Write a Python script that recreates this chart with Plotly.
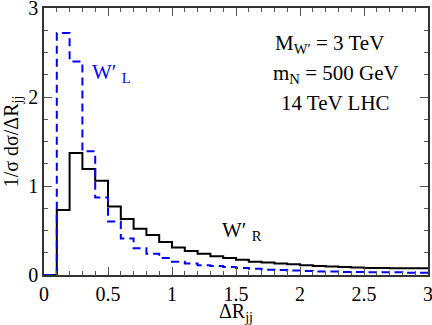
import plotly.graph_objects as go

# bin edges of the Delta R_jj histogram (0.1 wide)
edges = [round(0.1 * i, 1) for i in range(31)]

# normalised distributions, one value per bin
w_right = [0.00, 0.73, 1.37, 1.19, 1.06, 0.77, 0.63, 0.52, 0.45, 0.37,
           0.31, 0.27, 0.24, 0.21, 0.19, 0.17, 0.15, 0.14, 0.13, 0.12,
           0.11, 0.10, 0.095, 0.09, 0.085, 0.08, 0.08, 0.075, 0.075, 0.075]
w_left = [0.00, 2.72, 2.40, 1.39, 0.87, 0.60, 0.41, 0.30, 0.24, 0.19,
          0.15, 0.13, 0.11, 0.10, 0.09, 0.08, 0.07, 0.06, 0.055, 0.05,
          0.045, 0.04, 0.04, 0.035, 0.035, 0.03, 0.03, 0.03, 0.025, 0.025]

x_ticks = [0, 0.5, 1, 1.5, 2, 2.5, 3]
x_labels = ["0", "0.5", "1", "1.5", "2", "2.5", "3"]
y_ticks = [0, 1, 2, 3]

FONT = "Liberation Serif, Times New Roman, serif"

fig = go.Figure()
fig.add_trace(go.Scatter(x=edges, y=w_right + [w_right[-1]], mode="lines",
                         line=dict(color="black", width=2, shape="hv"),
                         showlegend=False))
fig.add_trace(go.Scatter(x=edges, y=w_left + [w_left[-1]], mode="lines",
                         line=dict(color="#0000ff", width=2, shape="hv", dash="8px,5px"),
                         showlegend=False))

axis_common = dict(showgrid=False, zeroline=False, showline=True, linecolor="#333",
                   linewidth=1.5, mirror="allticks", ticks="inside", ticklen=8,
                   tickcolor="#555", automargin=False, ticklabeloverflow="allow",
                   tickfont=dict(family=FONT, size=20, color="black"))

fig.update_xaxes(range=[0, 3], tickvals=x_ticks, ticktext=x_labels,
                 minor=dict(dtick=0.1, ticklen=4, ticks="inside", tickcolor="#555"),
                 title=dict(text="ΔR<sub>jj</sub>", font=dict(family=FONT, size=20, color="black"),
                            standoff=0),
                 **axis_common)
fig.update_yaxes(range=[0, 3], tickvals=y_ticks,
                 minor=dict(dtick=0.25, ticklen=4, ticks="inside", tickcolor="#555"),
                 title=dict(text="1/σ dσ/ΔR<sub>jj</sub>", font=dict(family=FONT, size=20, color="black"),
                            standoff=4),
                 **axis_common)

# text block in the upper right (x centre, y centre in data units)
notes = [("M<sub>W′</sub> = 3 TeV", 2.23, 2.59),
         ("m<sub>N</sub> = 500 GeV", 2.28, 2.26),
         ("14 TeV LHC", 2.28, 1.93)]
for text, xv, yv in notes:
    fig.add_annotation(x=xv, y=yv, text=text, showarrow=False,
                       font=dict(family=FONT, size=21, color="black"))

fig.add_annotation(x=0.53, y=2.27, text="W′ <sub>L</sub>", showarrow=False,
                   font=dict(family=FONT, size=21, color="#0000ff"))
fig.add_annotation(x=1.55, y=0.5, text="W′ <sub>R</sub>", showarrow=False,
                   font=dict(family=FONT, size=21, color="black"))

fig.update_layout(width=432, height=325, margin=dict(l=44, r=4, t=8, b=50),
                  plot_bgcolor="white", paper_bgcolor="white",
                  font=dict(family=FONT, color="black"))

# drop the default page margin so the figure sits at the window's corner
fig.write_html("out.html", config={"displayModeBar": False},
               post_script="document.body.style.margin='0';")
